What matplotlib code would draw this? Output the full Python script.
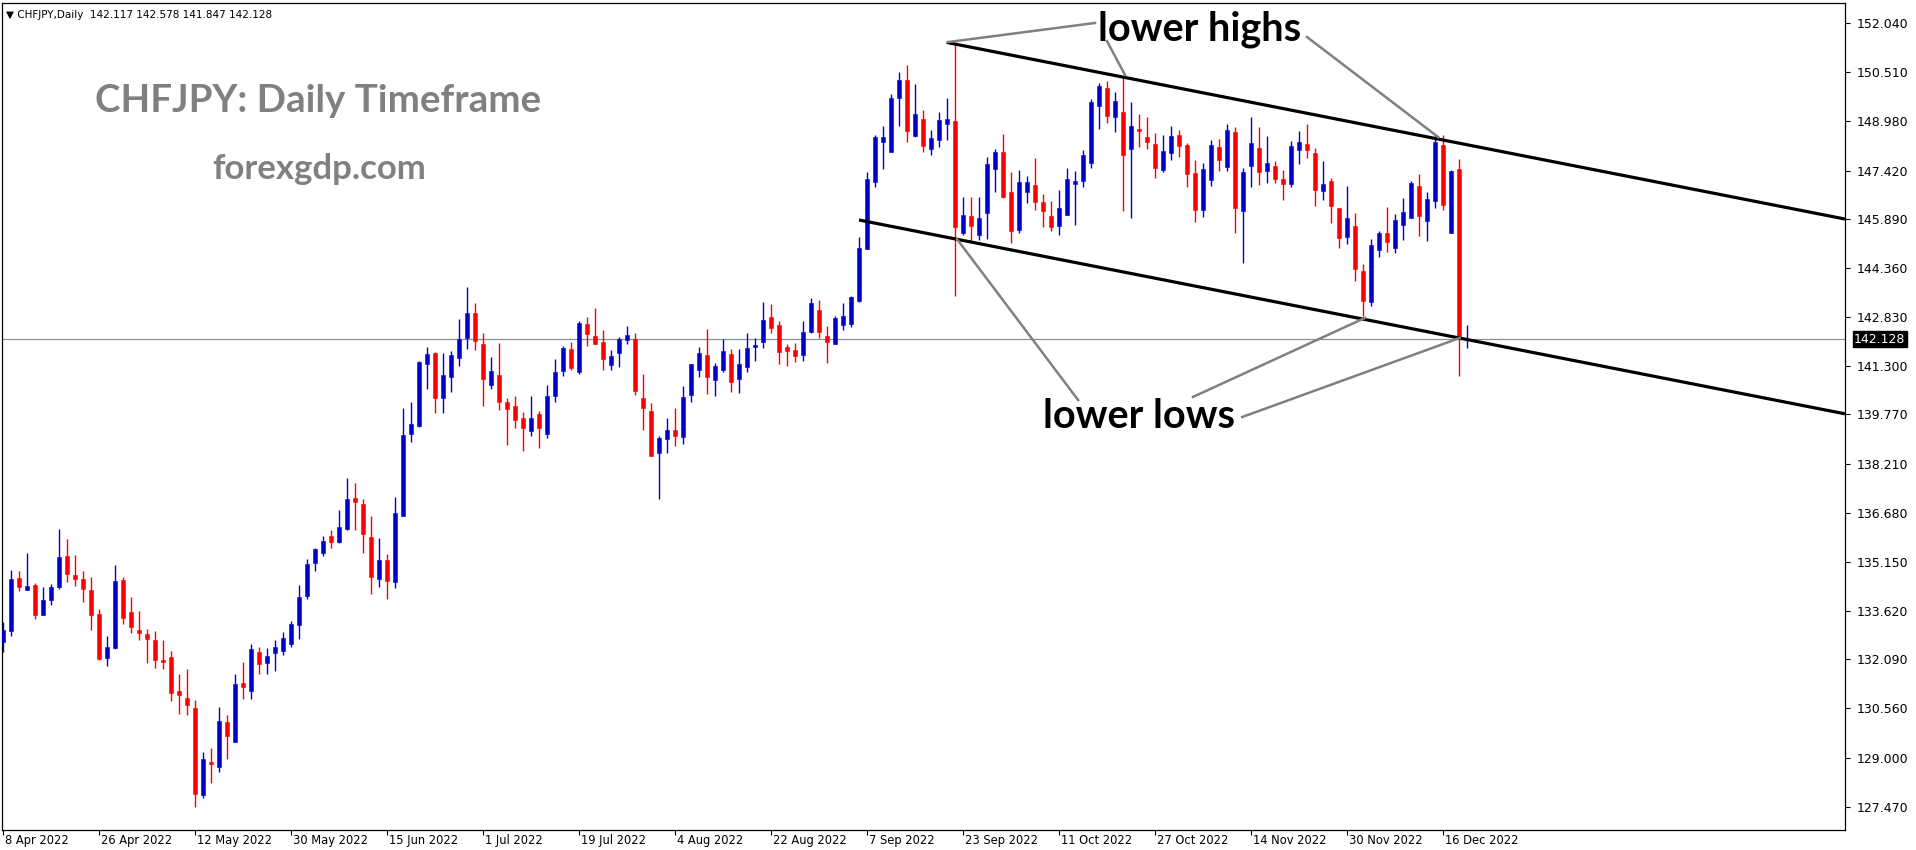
"""
CHFJPY daily candles (Apr - Dec 2022) with a descending channel,
MT4-style rendering: blue/red candles, price scale on the right.
"""
import numpy as np
import matplotlib
matplotlib.use("Agg")
import matplotlib.pyplot as plt

# ----------------------------------------------------------------------------
# Data, one candle per trading day, 8 Apr -> 21 Dec 2022
# ----------------------------------------------------------------------------
opens = [
    132.64, 132.99, 134.64, 134.27, 134.42, 133.49, 133.96, 134.37, 135.33, 134.73,
    134.61, 134.26, 133.51, 132.14, 132.44, 134.58, 133.57, 133.01, 132.88, 132.70,
    132.07, 132.16, 131.11, 130.88, 130.56, 127.84, 128.87, 128.70, 130.12, 129.50,
    131.35, 131.11, 132.32, 131.98, 132.30, 132.36, 132.58, 133.18, 134.09, 135.12,
    135.44, 135.96, 135.77, 136.19, 137.15, 136.96, 135.93, 134.62, 135.21, 134.53,
    136.60, 139.17, 139.40, 141.36, 141.70, 140.30, 140.96, 141.55, 142.18, 142.95,
    141.98, 140.70, 141.01, 140.16, 140.04, 139.66, 139.26, 139.79, 139.17, 140.36,
    141.14, 141.82, 141.11, 142.61, 142.23, 142.04, 141.33, 141.71, 142.12, 142.14,
    140.29, 139.88, 138.57, 139.01, 139.28, 139.07, 140.39, 141.18, 141.64, 140.86,
    141.18, 141.67, 140.89, 141.27, 141.90, 142.05, 142.83, 142.58, 141.89, 141.79,
    141.65, 142.37, 143.05, 142.23, 141.99, 142.59, 142.62, 143.34, 144.97, 147.07,
    148.33, 148.01, 149.71, 150.26, 148.51, 149.04, 148.11, 148.39, 148.89, 148.97,
    145.47, 145.99, 145.41, 146.10, 147.48, 148.00, 146.75, 145.57, 146.76, 146.97,
    146.43, 145.99, 145.69, 146.04, 146.99, 147.10, 147.67, 149.46, 150.01, 149.11,
    149.26, 148.11, 148.72, 148.47, 148.25, 147.45, 147.98, 148.54, 148.22, 147.34,
    146.19, 147.13, 148.16, 147.54, 148.63, 146.16, 147.57, 148.13, 147.42, 147.56,
    147.16, 147.01, 148.05, 148.25, 147.97, 146.79, 147.09, 146.25, 145.35, 145.68,
    144.28, 143.31, 144.94, 145.46, 145.00, 145.72, 145.94, 146.94, 145.85, 146.48,
    148.22, 145.47, 147.47, 142.117,
]
highs = [
    133.25, 134.89, 134.86, 135.42, 134.47, 134.36, 134.45, 136.18, 135.86, 135.36,
    134.86, 134.67, 133.67, 132.82, 135.05, 134.67, 134.04, 133.60, 133.04, 132.98,
    132.70, 132.35, 131.64, 131.79, 130.81, 129.18, 129.31, 130.59, 130.34, 131.63,
    132.01, 132.57, 132.48, 132.44, 132.70, 132.95, 133.29, 134.42, 135.24, 135.58,
    135.96, 136.15, 136.77, 137.78, 137.62, 137.12, 136.59, 135.89, 135.39, 137.18,
    139.97, 140.16, 141.45, 141.89, 141.73, 141.70, 141.76, 142.76, 143.77, 143.27,
    142.33, 141.57, 142.01, 140.29, 140.35, 139.85, 140.35, 139.88, 140.69, 141.51,
    141.92, 142.04, 142.70, 142.83, 143.11, 142.42, 141.79, 142.20, 142.54, 142.33,
    141.04, 140.13, 139.09, 139.66, 139.97, 140.66, 141.35, 141.89, 142.45, 141.39,
    142.14, 141.82, 141.82, 142.33, 142.17, 143.30, 143.24, 142.70, 141.98, 142.01,
    142.70, 143.42, 143.36, 142.55, 142.86, 143.27, 143.49, 145.34, 147.38, 148.54,
    148.82, 149.82, 150.51, 150.73, 150.14, 149.32, 148.69, 149.26, 149.70, 151.43,
    146.59, 146.59, 146.59, 147.85, 148.10, 148.57, 147.37, 147.44, 147.25, 147.81,
    146.69, 146.47, 146.81, 147.51, 147.41, 148.07, 149.67, 150.17, 150.23, 149.88,
    150.39, 149.57, 149.20, 149.10, 148.60, 148.54, 148.82, 148.69, 148.29, 147.75,
    147.66, 148.38, 148.41, 148.88, 148.79, 147.50, 149.10, 148.79, 148.50, 147.72,
    147.44, 148.35, 148.66, 148.88, 148.13, 147.73, 147.19, 146.25, 146.94, 146.09,
    144.49, 145.27, 145.52, 146.28, 146.06, 146.56, 147.09, 147.31, 146.75, 148.50,
    148.54, 147.44, 147.78, 142.578,
]
lows = [
    132.33, 132.83, 134.24, 134.25, 133.36, 133.48, 133.80, 134.31, 134.53, 134.40,
    133.90, 133.02, 132.08, 131.89, 132.41, 133.21, 132.92, 132.70, 131.98, 131.83,
    131.80, 130.79, 130.39, 130.35, 127.47, 127.75, 128.22, 128.56, 128.97, 129.50,
    130.83, 130.86, 131.64, 131.64, 131.73, 132.24, 132.49, 132.74, 133.99, 134.87,
    135.34, 135.59, 135.74, 136.16, 136.16, 135.44, 134.15, 134.37, 133.99, 134.34,
    136.60, 138.92, 139.39, 140.58, 139.83, 139.83, 140.49, 141.30, 141.83, 141.80,
    140.05, 140.58, 139.92, 138.82, 139.36, 138.63, 139.11, 138.73, 139.04, 140.17,
    140.99, 141.18, 141.05, 141.93, 141.99, 141.18, 141.18, 141.27, 141.99, 140.39,
    139.29, 138.48, 137.13, 138.57, 138.79, 138.85, 140.17, 140.96, 140.42, 140.36,
    141.11, 140.49, 140.45, 141.11, 141.46, 141.87, 142.34, 141.36, 141.30, 141.43,
    141.46, 142.31, 142.18, 141.40, 141.99, 142.43, 142.52, 143.31, 144.97, 146.92,
    147.47, 148.01, 148.83, 148.33, 148.48, 148.01, 147.92, 148.17, 148.39, 143.50,
    145.41, 145.22, 145.25, 145.28, 146.76, 146.57, 145.16, 145.47, 146.41, 146.19,
    145.66, 145.54, 145.41, 146.04, 145.72, 146.91, 147.51, 148.73, 148.92, 148.64,
    146.16, 145.94, 148.17, 148.11, 147.20, 147.39, 147.76, 147.86, 146.92, 145.82,
    145.97, 146.95, 147.42, 147.42, 145.45, 144.53, 146.92, 146.98, 147.04, 147.04,
    146.51, 146.92, 147.64, 147.83, 146.32, 146.51, 145.79, 145.00, 145.13, 143.97,
    142.87, 143.18, 144.72, 144.88, 144.85, 145.25, 145.94, 145.38, 145.22, 146.26,
    146.19, 145.47, 140.99, 141.847,
]
closes = [
    133.01, 134.61, 134.37, 134.39, 133.49, 133.95, 134.36, 135.30, 134.78, 134.62,
    134.31, 133.49, 132.10, 132.48, 134.55, 133.40, 133.11, 132.92, 132.74, 132.08,
    132.02, 131.04, 130.98, 130.67, 127.88, 128.96, 128.82, 130.15, 129.69, 131.31,
    131.23, 132.41, 131.95, 132.19, 132.48, 132.76, 133.20, 134.04, 135.08, 135.55,
    135.80, 135.78, 136.24, 137.12, 137.04, 136.03, 134.68, 135.21, 134.56, 136.68,
    139.13, 139.47, 141.42, 141.67, 140.30, 141.01, 141.64, 142.14, 142.95, 142.09,
    140.89, 141.13, 140.17, 139.95, 139.61, 139.33, 139.66, 139.33, 140.35, 141.10,
    141.86, 141.24, 142.64, 142.30, 141.99, 141.52, 141.60, 142.14, 142.26, 140.52,
    139.98, 138.48, 139.03, 139.28, 139.11, 140.32, 141.35, 141.70, 140.96, 141.29,
    141.76, 140.80, 141.35, 141.86, 141.95, 142.73, 142.49, 141.74, 141.77, 141.61,
    142.36, 143.27, 142.37, 142.05, 142.80, 142.86, 143.45, 144.99, 147.16, 148.47,
    148.47, 149.70, 150.26, 148.67, 149.20, 148.20, 148.44, 149.01, 149.04, 145.66,
    146.03, 145.69, 145.93, 147.63, 148.00, 146.60, 145.54, 147.06, 147.06, 146.44,
    146.16, 145.66, 146.25, 147.16, 147.09, 147.91, 149.57, 150.07, 149.14, 149.60,
    147.92, 148.82, 148.67, 148.33, 147.51, 148.03, 148.50, 148.20, 147.32, 146.19,
    147.47, 148.22, 147.76, 148.69, 146.26, 147.38, 148.28, 147.39, 147.66, 147.17,
    147.01, 148.19, 148.32, 148.08, 146.82, 147.00, 146.32, 145.31, 145.93, 144.34,
    143.34, 145.09, 145.46, 145.19, 145.87, 146.12, 147.03, 146.01, 146.53, 148.32,
    146.35, 147.41, 142.23, 142.128,
]

date_labels = ["8 Apr 2022", "26 Apr 2022", "12 May 2022", "30 May 2022",
               "15 Jun 2022", "1 Jul 2022", "19 Jul 2022", "4 Aug 2022",
               "22 Aug 2022", "7 Sep 2022", "23 Sep 2022", "11 Oct 2022",
               "27 Oct 2022", "14 Nov 2022", "30 Nov 2022", "16 Dec 2022"]
date_bars = [0, 12, 24, 36, 48, 60, 72, 84, 96, 108, 120, 132, 144, 156, 168, 180]

price_ticks = [152.040, 150.510, 148.980, 147.420, 145.890, 144.360, 142.830,
               141.300, 139.770, 138.210, 136.680, 135.150, 133.620, 132.090,
               130.560, 129.000, 127.470]

last_price = 142.128

# channel lines (bar index, price)
upper_channel = [(117.96, 151.44), (230.25, 145.90)]
lower_channel = [(107.0, 145.87), (230.25, 139.79)]

# grey pointer lines from the labels to the touches
highs_pointers = [[(136.5, 152.05), (118.1, 151.45)],
                  [(138.0, 151.48), (140.25, 150.42)],
                  [(163.0, 151.61), (179.4, 148.47)]]
lows_pointers = [[(119.25, 145.27), (134.4, 140.22)],
                 [(148.75, 140.32), (170.25, 142.80)],
                 [(154.9, 139.69), (182.1, 142.17)]]

# ----------------------------------------------------------------------------
W, H = 1916, 850
BLUE, RED = "#0000cc", "#ff0000"


def fx(px):
    return px / W


def fy(py):
    return 1 - py / H


fig = plt.figure(figsize=(W / 100, H / 100), dpi=100)
fig.patch.set_facecolor("white")
ax = fig.add_axes([fx(2), fy(830), fx(1845) - fx(2), fy(2.7) - fy(830)])

o = np.array(opens); h = np.array(highs); l = np.array(lows); c = np.array(closes)
x = np.arange(len(o))
col = np.where(c >= o, BLUE, RED)

ax.vlines(x, l, h, colors=col, lw=1.0, zorder=3)
body_lo = np.minimum(o, c)
body_h = np.maximum(np.abs(c - o), 0.02)
ax.bar(x, body_h, bottom=body_lo, width=0.58, color=col, edgecolor=col,
       linewidth=0.4, zorder=4)

# bid line
ax.axhline(last_price, color="#8a9098", lw=0.9, zorder=2)

# channel
for seg in (upper_channel, lower_channel):
    xs, ys = zip(*seg)
    ax.plot(xs, ys, color="black", lw=2.3, zorder=5, solid_capstyle="butt")
for seg in highs_pointers + lows_pointers:
    xs, ys = zip(*seg)
    ax.plot(xs, ys, color="#808080", lw=1.8, zorder=5, clip_on=False)

ax.set_xlim(-0.125, 230.25)
ax.set_ylim(126.736, 152.686)

# axes styling (MT4 look)
for sp in ax.spines.values():
    sp.set_color("black")
    sp.set_linewidth(0.9)
ax.yaxis.tick_right()
ax.set_yticks(price_ticks)
ax.set_yticklabels([f"{v:.3f}" for v in price_ticks])
ax.tick_params(axis="y", direction="out", length=3.5, width=0.8, pad=5,
               labelsize=9, colors="black")
ax.set_xticks(date_bars)
ax.set_xticklabels([])
ax.tick_params(axis="x", direction="out", length=3.5, width=0.8)
for b, lbl in zip(date_bars, date_labels):
    ax.annotate(lbl, xy=(b, 0), xycoords=("data", "axes fraction"),
                xytext=(2, -4), textcoords="offset pixels", ha="left",
                va="top", fontsize=8.3, color="black", annotation_clip=False)

# current price tag
ax.annotate(f"{last_price:.3f}", xy=(1, last_price),
            xycoords=("axes fraction", "data"), xytext=(9, 0),
            textcoords="offset pixels", ha="left", va="center", fontsize=9,
            color="white", annotation_clip=False,
            bbox=dict(boxstyle="square,pad=0.12", fc="black", ec="black"))

# header + watermark texts
fig.text(fx(6), fy(18), "▼ CHFJPY,Daily  142.117 142.578 141.847 142.128",
         fontsize=7.5, color="black", ha="left", va="baseline")
fig.text(fx(95), fy(111.7), "CHFJPY: Daily Timeframe", family="Lato",
         weight="bold", fontsize=27.7, color="#808080", ha="left", va="baseline")
fig.text(fx(212.7), fy(179.3), "forexgdp.com", family="Lato",
         weight="bold", fontsize=25, color="#808080", ha="left", va="baseline")
fig.text(fx(1098), fy(40.7), "lower highs", family="Lato", weight="bold",
         fontsize=28.5, color="black", ha="left", va="baseline")
fig.text(fx(1043), fy(428), "lower lows", family="Lato", weight="bold",
         fontsize=28.5, color="black", ha="left", va="baseline")

fig.savefig("out.png", dpi=100, facecolor="white")
